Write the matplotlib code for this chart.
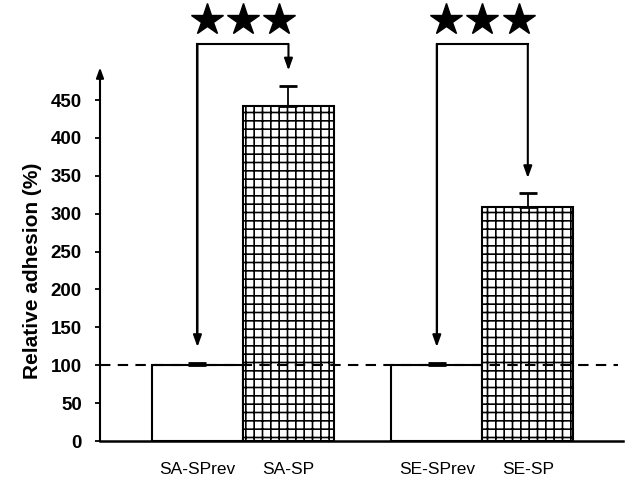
import matplotlib
matplotlib.use("Agg")
import matplotlib.pyplot as plt
import numpy as np

plt.rcParams['font.family'] = ['Liberation Sans', 'DejaVu Sans']
plt.rcParams['hatch.linewidth'] = 1.2

categories = ["SA-SPrev", "SA-SP", "SE-SPrev", "SE-SP"]
values = [100, 442, 100, 309]
errors = [3, 27, 3, 18]
hatches = ["", "++", "", "++"]
yticks = [0, 50, 100, 150, 200, 250, 300, 350, 400, 450]
baseline = 100
# significance brackets: (from index, to index, left tip value, right tip value)
brackets = [(0, 1, 124, 489), (2, 3, 124, 347)]
bracket_top = 524
star_level = 555

positions = np.array([0, 1, 2.63, 3.63])

fig = plt.figure(figsize=(6.3, 4.83), dpi=100)
ax = fig.add_axes([100/630, 42/483, 523/630, 441/483])
ax.set_xlim(-1.071, 4.676)
ax.set_ylim(0, 582)

ax.bar(positions, values, width=1.0, color="white", edgecolor="black",
       linewidth=1.5, hatch=hatches, zorder=2)
ax.errorbar(positions, values, yerr=[np.zeros(len(errors)), errors], fmt="none",
            ecolor="black", elinewidth=1.3, capsize=6.5, capthick=2, zorder=3)

# dashed reference line
ax.plot([-1.071, 4.62], [baseline, baseline], color="black", lw=1.5,
        ls=(0, (5, 3.5)), zorder=4, clip_on=False)

# spines
for s in ["top", "right", "left"]:
    ax.spines[s].set_visible(False)
ax.spines["bottom"].set_linewidth(1.8)
ax.spines["bottom"].set_zorder(5)

# left axis with arrow
ax.annotate("", xy=(-1.071, 493), xytext=(-1.071, 0),
            arrowprops=dict(arrowstyle="-|>,head_length=0.6,head_width=0.22",
                            color="black", lw=1.5, shrinkA=0, shrinkB=0),
            annotation_clip=False)

ax.set_yticks(yticks)
ax.set_yticklabels([str(t) for t in yticks], fontsize=13.5, fontweight="bold")
ax.tick_params(axis="y", direction="out", length=3.6, width=1.3, pad=9.5)
ax.set_xticks(positions)
ax.set_xticklabels(categories, fontsize=12.5)
ax.tick_params(axis="x", length=0, pad=15)
fig.text(33/630, 1 - 271/483, "Relative adhesion (%)", rotation=90,
         fontsize=15, fontweight="bold", ha="center", va="center")

# brackets with arrows and stars
for i, j, ltip, rtip in brackets:
    xl, xr = positions[i], positions[j]
    ax.plot([xl, xl, xr], [ltip + 10, bracket_top, bracket_top], color="black",
            lw=1.5, clip_on=False, solid_joinstyle="miter")
    for x, tip in [(xl, ltip), (xr, rtip)]:
        ax.annotate("", xy=(x, tip), xytext=(x, bracket_top),
                    arrowprops=dict(arrowstyle="-|>,head_length=0.7,head_width=0.25",
                                    color="black", lw=1.5, shrinkA=0, shrinkB=0),
                    annotation_clip=False)
    mid = (xl + xr) / 2
    ax.plot([mid - 0.4, mid, mid + 0.4], [star_level] * 3, ls="none", marker="*",
            ms=24, color="black", clip_on=False)

fig.savefig("out.png", dpi=100)
